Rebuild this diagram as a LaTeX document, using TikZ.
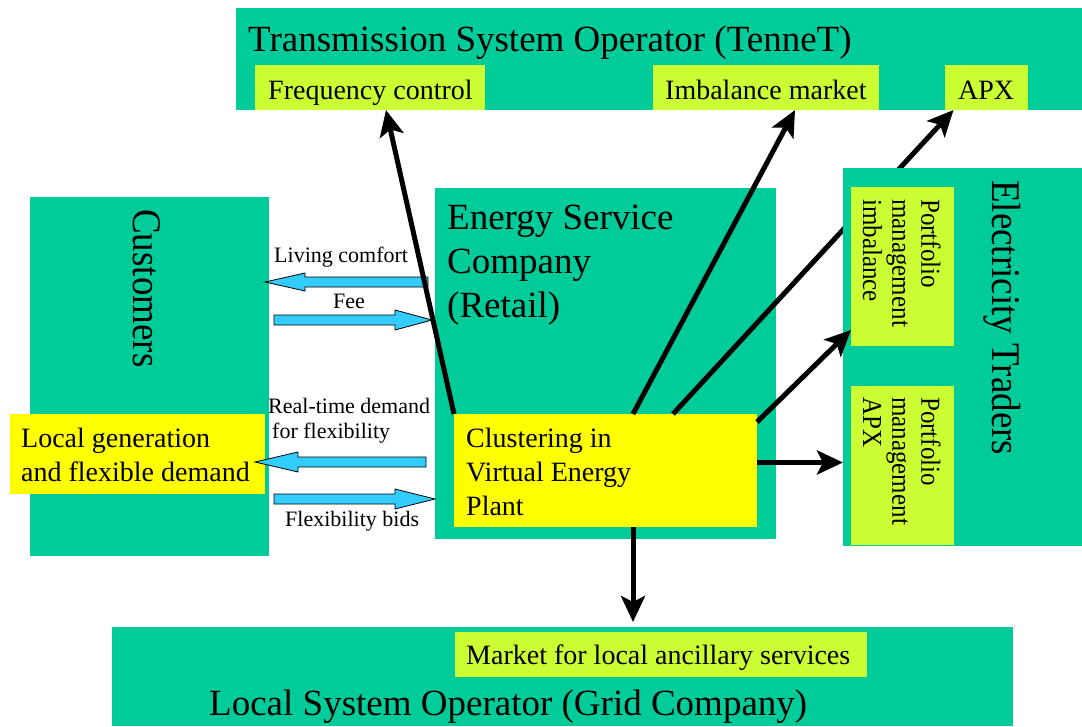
\documentclass[tikz,border=0pt]{standalone}
\usepackage{fontspec}
\setmainfont{Liberation Serif}
\usetikzlibrary{arrows.meta,calc}
\definecolor{tealg}{HTML}{00CC99}
\definecolor{limeg}{HTML}{CCFF33}
\definecolor{yell}{HTML}{FFFF00}
\definecolor{skyb}{HTML}{33CCFF}
\begin{document}
\begin{tikzpicture}[x=1pt,y=-1pt,
  box/.style={fill=tealg, draw=none, inner sep=0pt, outer sep=0pt, anchor=north west},
  sub/.style={fill=limeg, draw=none, inner sep=0pt, outer sep=0pt, anchor=north west},
  yel/.style={fill=yell, draw=none, inner sep=0pt, outer sep=0pt, anchor=north west},
  big/.style={font=\fontsize{37}{44}\selectfont, inner sep=0pt, anchor=base west},
  mid/.style={font=\fontsize{28}{34}\selectfont, inner sep=0pt, anchor=base west},
  lab/.style={font=\fontsize{22}{25}\selectfont, inner sep=0pt, anchor=base west},
  vert/.style={xscale=1.1, rotate=-90, inner sep=0pt},
  flow/.style={line width=5pt, -{Stealth[length=26pt,width=24pt,inset=6pt]}},
  barrow/.style={fill=skyb, draw=black, line width=0.8pt, line join=miter}]
\useasboundingbox (0,0) rectangle (1082,726);
% boxes
\node[box, minimum width=846pt, minimum height=102pt] (tso) at (236,8) {};
\node[sub, minimum width=230pt, minimum height=45pt] (freq) at (255,65) {};
\node[sub, minimum width=226pt, minimum height=45pt] (imb) at (653,65) {};
\node[sub, minimum width=83pt, minimum height=45pt] (apx) at (945,65) {};
\node[box, minimum width=239pt, minimum height=359pt] (cust) at (30,197) {};
\node[yel, minimum width=255pt, minimum height=80pt] (loc) at (10,414) {};
\node[box, minimum width=341pt, minimum height=351pt] (esco) at (435,188) {};
\node[yel, minimum width=303pt, minimum height=113pt] (clus) at (454,414) {};
% block arrows
\coordinate (lcT) at (265,282);
\draw[barrow] (lcT) -- ++(40,-9) -- ++(0,4) -- ++(123,0) -- ++(0,10) -- ++(-123,0) -- ++(0,4) -- cycle;
\coordinate (feeT) at (432,320);
\draw[barrow] (feeT) -- ++(-37,-10) -- ++(0,5) -- ++(-121,0) -- ++(0,10) -- ++(121,0) -- ++(0,5) -- cycle;
\coordinate (rtT) at (255,462);
\draw[barrow] (rtT) -- ++(43,-10) -- ++(0,5) -- ++(128,0) -- ++(0,10) -- ++(-128,0) -- ++(0,5) -- cycle;
\coordinate (fbT) at (435,499);
\draw[barrow] (fbT) -- ++(-40,-10) -- ++(0,5) -- ++(-121,0) -- ++(0,10) -- ++(121,0) -- ++(0,5) -- cycle;
% arrow to APX passes behind the traders box
\draw[flow] ([xshift=219pt]clus.north west) -- ([xshift=-33pt]apx.south);
\node[box, minimum width=239pt, minimum height=378pt] (trad) at (843,168) {};
\node[sub, minimum width=103pt, minimum height=159pt] (pmi) at (851,187) {};
\node[sub, minimum width=103pt, minimum height=159pt] (pma) at (851,386) {};
\node[box, minimum width=901pt, minimum height=99pt] (lso) at (112,627) {};
\node[sub, minimum width=412pt, minimum height=45pt] (mkt) at (455,632) {};
% arrows
\draw[flow] (clus.north west) -- ([xshift=16pt]freq.south);
\draw[flow] ([xshift=179pt]clus.north west) -- ([xshift=29pt]imb.south);
\draw[flow] ([yshift=-8pt]clus.north east) -- ([yshift=16pt]pmi.south west);
\coordinate (pa) at ([yshift=8pt]clus.east);
\draw[flow] (pa) -- (pa -| trad.west);
\coordinate (dn) at ([xshift=179pt]clus.south west);
\draw[flow, shorten >=5pt] (dn) -- (dn |- lso.north);
% labels
\node[lab] (lcL) at (274,262) {Living comfort};
\node[lab] (feeL) at (333,308) {Fee};
\node[lab] (rtL1) at (268,413) {Real-time demand};
\node[lab] (rtL2) at (272,438) {for flexibility};
\node[lab] (fbL) at (285,526) {Flexibility bids};
% texts
\node[big] (tsoT) at (248,51) {Transmission System Operator (TenneT)};
\node[mid] (freqT) at (268,99) {Frequency control};
\node[mid] (imbT) at (665,99) {Imbalance market};
\node[mid] (apxT) at (958,99) {APX};
\node[big, anchor=north west, align=left] (escoT) at (447,205) {Energy Service\\Company\\(Retail)};
\node[mid, anchor=north west, align=left] (clusT) at (466,428) {Clustering in\\Virtual Energy\\Plant};
\node[mid, anchor=north west, align=left] (locT) at (21,428) {Local generation\\and flexible demand};
\node[mid] (mktT) at (466,664) {Market for local ancillary services};
\node[big] (lsoT) at (209,715) {Local System Operator (Grid Company)};
\node[big, vert, anchor=base west] (custT) at (133,209) {Customers};
\node[big, vert, anchor=base west] (tradT) at (992,180) {Electricity Traders};
\node[vert, anchor=north west, align=left, font=\fontsize{25}{26.5}\selectfont] (pmiT) at (941,199) {Portfolio\\management\\imbalance};
\node[vert, anchor=north west, align=left, font=\fontsize{25}{26.5}\selectfont] (pmaT) at (941,397) {Portfolio\\management\\APX};
\end{tikzpicture}
\end{document}
